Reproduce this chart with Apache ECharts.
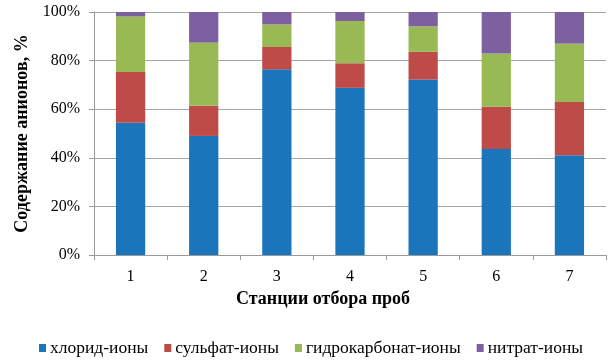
<!DOCTYPE html>
<html>
<head>
<meta charset="utf-8">
<script src="https://cdn.jsdelivr.net/npm/echarts@6/dist/echarts.min.js"></script>
<style>html,body{margin:0;padding:0;background:#fff}#c{width:612px;height:360px}</style>
</head>
<body>
<div id="c"></div>
<script>
const categories = ['1','2','3','4','5','6','7'];
const chloride = [54.4, 49.0, 76.4, 68.8, 72.2, 43.6, 41.0];
const sulfate = [20.9, 12.4, 9.2, 10.1, 11.4, 17.4, 22.0];
const hydrocarbonate = [22.9, 26.0, 9.3, 17.4, 10.5, 21.9, 24.0];
const nitrate = [1.8, 12.6, 5.1, 3.7, 5.9, 17.1, 13.0];
const seriesNames = ['хлорид-ионы','сульфат-ионы','гидрокарбонат-ионы','нитрат-ионы'];
const yTicks = [0, 20, 40, 60, 80, 100];

const font = '"Liberation Serif", "DejaVu Serif", serif';
const colors = ['#1B75BB', '#BE4B48', '#98B954', '#7D60A0'];
const data = [chloride, sulfate, hydrocarbonate, nitrate];

const chart = echarts.init(document.getElementById('c'), null, {renderer: 'canvas'});
chart.setOption({
  animation: false,
  color: colors,
  grid: {left: 94, right: 6, top: 12, bottom: 105, containLabel: false},
  legend: {
    top: 334, left: 34,
    itemWidth: 7, itemHeight: 8, itemGap: 16,
    icon: 'rect',
    textStyle: {fontFamily: font, fontSize: 17.5, color: '#000', padding: [0,0,0,-1]},
    data: seriesNames
  },
  xAxis: {
    type: 'category',
    data: categories,
    name: 'Станции отбора проб',
    nameLocation: 'middle',
    nameGap: 32,
    nameTextStyle: {fontFamily: font, fontSize: 18, fontWeight: 'bold', color: '#000', padding: [0, 54, 0, 0]},
    axisLine: {lineStyle: {color: '#9a9a9a', width: 1}},
    axisTick: {show: true, alignWithLabel: false, length: 5, lineStyle: {color: '#9a9a9a'}},
    axisLabel: {fontFamily: font, fontSize: 16, color: '#000', margin: 14}
  },
  yAxis: {
    type: 'value',
    min: yTicks[0], max: yTicks[yTicks.length - 1], interval: 20,
    name: 'Содержание анионов, %',
    nameLocation: 'middle',
    nameGap: 63,
    nameTextStyle: {fontFamily: font, fontSize: 18, fontWeight: 'bold', color: '#000'},
    axisLine: {show: true, lineStyle: {color: '#9a9a9a', width: 1}},
    axisTick: {show: true, length: 5, lineStyle: {color: '#9a9a9a'}},
    axisLabel: {fontFamily: font, fontSize: 16, color: '#000', margin: 14, formatter: '{value}%'},
    splitLine: {show: true, lineStyle: {color: '#a6a6a6', width: 1}}
  },
  series: seriesNames.map((n, i) => ({
    name: n,
    type: 'bar',
    stack: 'total',
    barWidth: '40%',
    data: data[i]
  }))
});
</script>
</body>
</html>
